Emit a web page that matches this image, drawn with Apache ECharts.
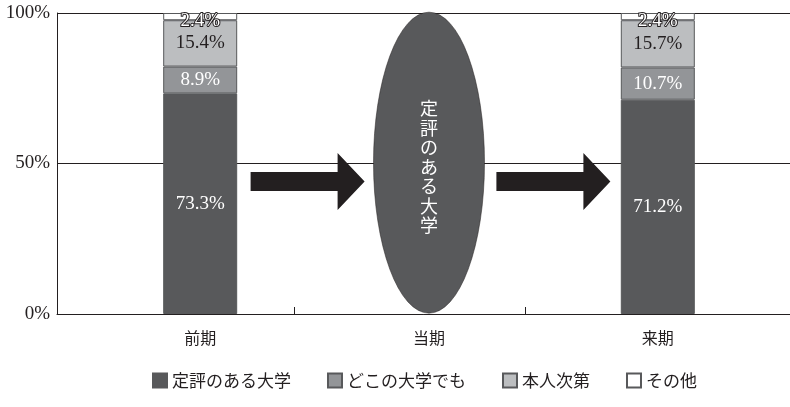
<!DOCTYPE html>
<html>
<head>
<meta charset="utf-8">
<script src="https://cdn.jsdelivr.net/npm/echarts@6/dist/echarts.min.js"></script>
<style>
    html, body { margin: 0; padding: 0; background: #fff; }
    #main { width: 790px; height: 407px; }
</style>
</head>
<body>
<div id="main"></div>
<script>
    // カテゴリ（前期・当期・来期の間に矢印用の空き枠）
    var periods = ['前期', ' ', '当期', '  ', '来期'];
    var seriesNames = ['定評のある大学', 'どこの大学でも', '本人次第', 'その他'];
    var teihyo = [73.3, '-', '-', '-', 71.2];
    var dokodemo = [8.9, '-', '-', '-', 10.7];
    var honnin = [15.4, '-', '-', '-', 15.7];
    var sonota = [2.4, '-', '-', '-', 2.4];
    // 当期は楕円で表示
    var touki = ['-', '-', 100, '-', '-'];
    var arrowY = 44;
    var yTicks = [0, 50, 100];

    var colors = ['#58595b', '#939598', '#bcbec0', '#ffffff'];
    var labelColors = ['#fff', '#fff', '#231f20', '#fff'];
    var serifFont = 'Liberation Serif, Noto Sans CJK JP';
    var arrowPath = 'path://M0,19 L87,19 L87,0 L114,28.5 L87,57 L87,38 L0,38 Z';

    var chart = echarts.init(document.getElementById('main'));

    var values = [teihyo, dokodemo, honnin, sonota];
    var barSeries = [];
    for (var i = 0; i < values.length; i++) {
        barSeries.push({
            name: seriesNames[i],
            type: 'bar',
            stack: 'total',
            xAxisIndex: 1,
            yAxisIndex: 1,
            barWidth: 74,
            data: values[i],
            itemStyle: { color: colors[i], borderColor: '#58595b', borderWidth: 1 },
            label: {
                show: true,
                position: 'inside',
                offset: i === 3 ? [0, 4] : [0, 0],
                formatter: '{c}%',
                color: labelColors[i],
                fontFamily: serifFont,
                fontSize: 19,
                textBorderColor: i === 3 ? '#231f20' : 'transparent',
                textBorderWidth: i === 3 ? 2 : 0
            }
        });
    }

    var option = {
        animation: false,
        legend: {
            bottom: 13,
            left: 147,
            itemWidth: 14,
            itemHeight: 14,
            itemGap: 36,
            icon: 'rect',
            data: seriesNames,
            textStyle: { color: '#231f20', fontSize: 17, fontFamily: 'Noto Sans CJK JP' }
        },
        grid: [
            { left: 57, right: 0, top: 13, bottom: 93 },
            { left: 143, right: 75, top: 13, bottom: 93 }
        ],
        xAxis: [
            {
                type: 'value',
                gridIndex: 0,
                min: 0,
                max: 3.173,
                axisLine: { show: true, onZero: false, lineStyle: { color: '#231f20' } },
                axisTick: { show: true, inside: true, length: 7, customValues: [1.026, 2.026], lineStyle: { color: '#231f20' } },
                axisLabel: { show: false },
                splitLine: { show: false }
            },
            {
                type: 'category',
                gridIndex: 1,
                data: periods,
                axisLine: { show: false },
                axisTick: { show: false },
                axisLabel: { margin: 16, color: '#231f20', fontSize: 16, fontFamily: 'Noto Sans CJK JP' }
            }
        ],
        yAxis: [
            {
                type: 'value',
                gridIndex: 0,
                min: 0,
                max: 100,
                interval: 50,
                axisLine: { show: true, lineStyle: { color: '#231f20' } },
                axisTick: { show: false },
                axisLabel: {
                    margin: 7,
                    color: '#231f20',
                    fontSize: 19,
                    fontFamily: serifFont,
                    formatter: function (v) { return yTicks.indexOf(v) >= 0 ? v + '%' : ''; }
                },
                splitLine: { show: true, lineStyle: { color: '#231f20', width: 1 } }
            },
            {
                type: 'value',
                gridIndex: 1,
                min: 0,
                max: 100,
                show: false
            }
        ],
        series: barSeries.concat([
            {
                name: '当期',
                type: 'pictorialBar',
                xAxisIndex: 1,
                yAxisIndex: 1,
                symbol: 'circle',
                symbolSize: [111, '100%'],
                data: touki,
                itemStyle: { color: '#58595b', borderColor: '#231f20', borderWidth: 1 },
                label: {
                    show: true,
                    position: 'inside',
                    offset: [0, 4],
                    formatter: function () { return seriesNames[0].split('').join('\n'); },
                    color: '#fff',
                    fontSize: 18,
                    lineHeight: 19.5,
                    fontFamily: 'Noto Sans CJK JP'
                }
            },
            {
                name: '矢印',
                type: 'scatter',
                xAxisIndex: 1,
                yAxisIndex: 1,
                symbol: arrowPath,
                symbolSize: [114, 57],
                itemStyle: { color: '#231f20', opacity: 1 },
                data: [
                    { value: [1, arrowY], symbolOffset: [-7, 0] },
                    { value: [3, arrowY], symbolOffset: [10, 0] }
                ]
            }
        ])
    };

    chart.setOption(option);
</script>
</body>
</html>
